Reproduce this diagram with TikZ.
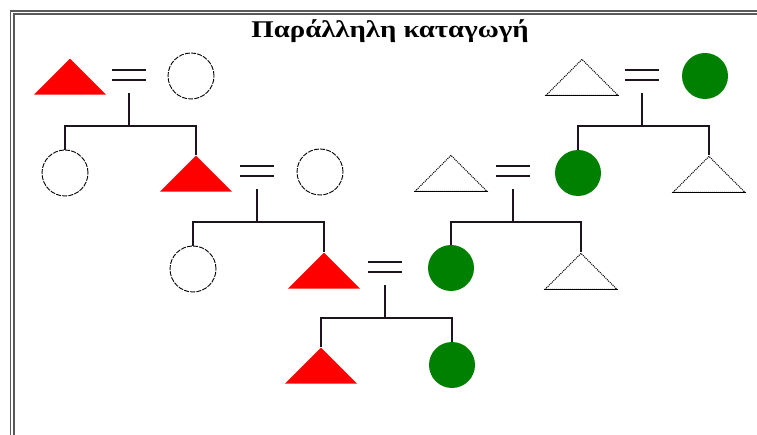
\documentclass[tikz,border=0pt]{standalone}
\usepackage{fontspec}
\setmainfont{Liberation Serif}
\usetikzlibrary{shapes.geometric}

\definecolor{kingreen}{RGB}{0,128,0}
\definecolor{kinline}{RGB}{30,20,30}

\tikzset{
  male/.style={shape=isosceles triangle,shape border rotate=90,
    isosceles triangle stretches,minimum width=72pt,minimum height=36pt,
    inner sep=0pt,anchor=apex},
  redmale/.style={male,fill=red},
  openmale/.style={male,draw=black,line width=1pt,densely dotted},
  female/.style={shape=circle,minimum size=46pt,inner sep=0pt},
  openfemale/.style={female,draw=black,line width=0.9pt,dash pattern=on 5pt off 1.2pt},
  greenfemale/.style={female,fill=kingreen},
  marriage/.style={minimum width=34pt,minimum height=12pt,inner sep=0pt,
    path picture={\draw[kinline,line width=1.5pt]
      ([yshift=-1pt]path picture bounding box.north west) -- ([yshift=-1pt]path picture bounding box.north east)
      ([yshift=1pt]path picture bounding box.south west) -- ([yshift=1pt]path picture bounding box.south east);}},
  kin/.style={kinline,line width=1.4pt},
}

\begin{document}
\begin{tikzpicture}[x=1pt,y=-1pt]
	\useasboundingbox (0,0) rectangle (757,435);
	
	% frame
	\draw[gray!70!black,line width=1.1pt] (757,11) -- (10.6,11) -- (10.6,435);
	\draw[gray!70!black,line width=1.1pt] (757,14) -- (14,14) -- (14,435);
	
	\node[font=\bfseries\fontsize{24}{30}\selectfont,anchor=base] (title) at (390,38) {\scalebox{1.2}[1]{Παράλληλη καταγωγή}};
	
	% left side
	\node[redmale] (m1) at (70,58) {};
	\node[marriage] (e1) at (129,75) {};
	\node[openfemale] (f1) at (191,76) {};
	\coordinate (s1) at (129,126);
	\node[openfemale] (c1) at (65,173) {};
	\node[redmale] (m2) at (196,155) {};
	\node[marriage] (e2) at (257,171) {};
	\node[openfemale] (f2) at (320,172) {};
	\coordinate (s2) at (257,222);
	\node[openfemale] (c2) at (193,269) {};
	\node[redmale] (m3) at (324,252) {};
	
	% right side
	\node[openmale] (w1) at (582,58) {};
	\node[marriage] (e3) at (642,75) {};
	\node[greenfemale] (g1) at (705,76) {};
	\coordinate (s3) at (642,126);
	\node[greenfemale] (g2) at (578,173) {};
	\node[openmale] (w2) at (709,155) {};
	\node[openmale] (w3) at (451,154) {};
	\node[marriage] (e4) at (513,171) {};
	\coordinate (s4) at (513,222);
	\node[greenfemale] (g3) at (451,268) {};
	\node[openmale] (w4) at (581,252) {};
	
	% cousins
	\node[marriage] (e5) at (385,267) {};
	\coordinate (s5) at (385,318);
	\node[redmale] (m4) at (321,347) {};
	\node[greenfemale] (g4) at (452,365) {};
	
	\foreach \t in {w1,w2,w3,w4}
		\draw[black,line width=1pt] (\t.left corner) -- (\t.right corner);
	
	\foreach \e/\s in {e1/s1,e2/s2,e3/s3,e4/s4,e5/s5}
		\draw[kin,shorten <=12pt] (\e) -- (\s);
	\draw[kin] (c1.north) |- (s1) -| (m2.apex);
	\draw[kin] (c2.north) |- (s2) -| (m3.apex);
	\draw[kin] (g2.north) |- (s3) -| (w2.apex);
	\draw[kin] (g3.north) |- (s4) -| (w4.apex);
	\draw[kin] (m4.apex) |- (s5) -| (g4.north);
\end{tikzpicture}
\end{document}
